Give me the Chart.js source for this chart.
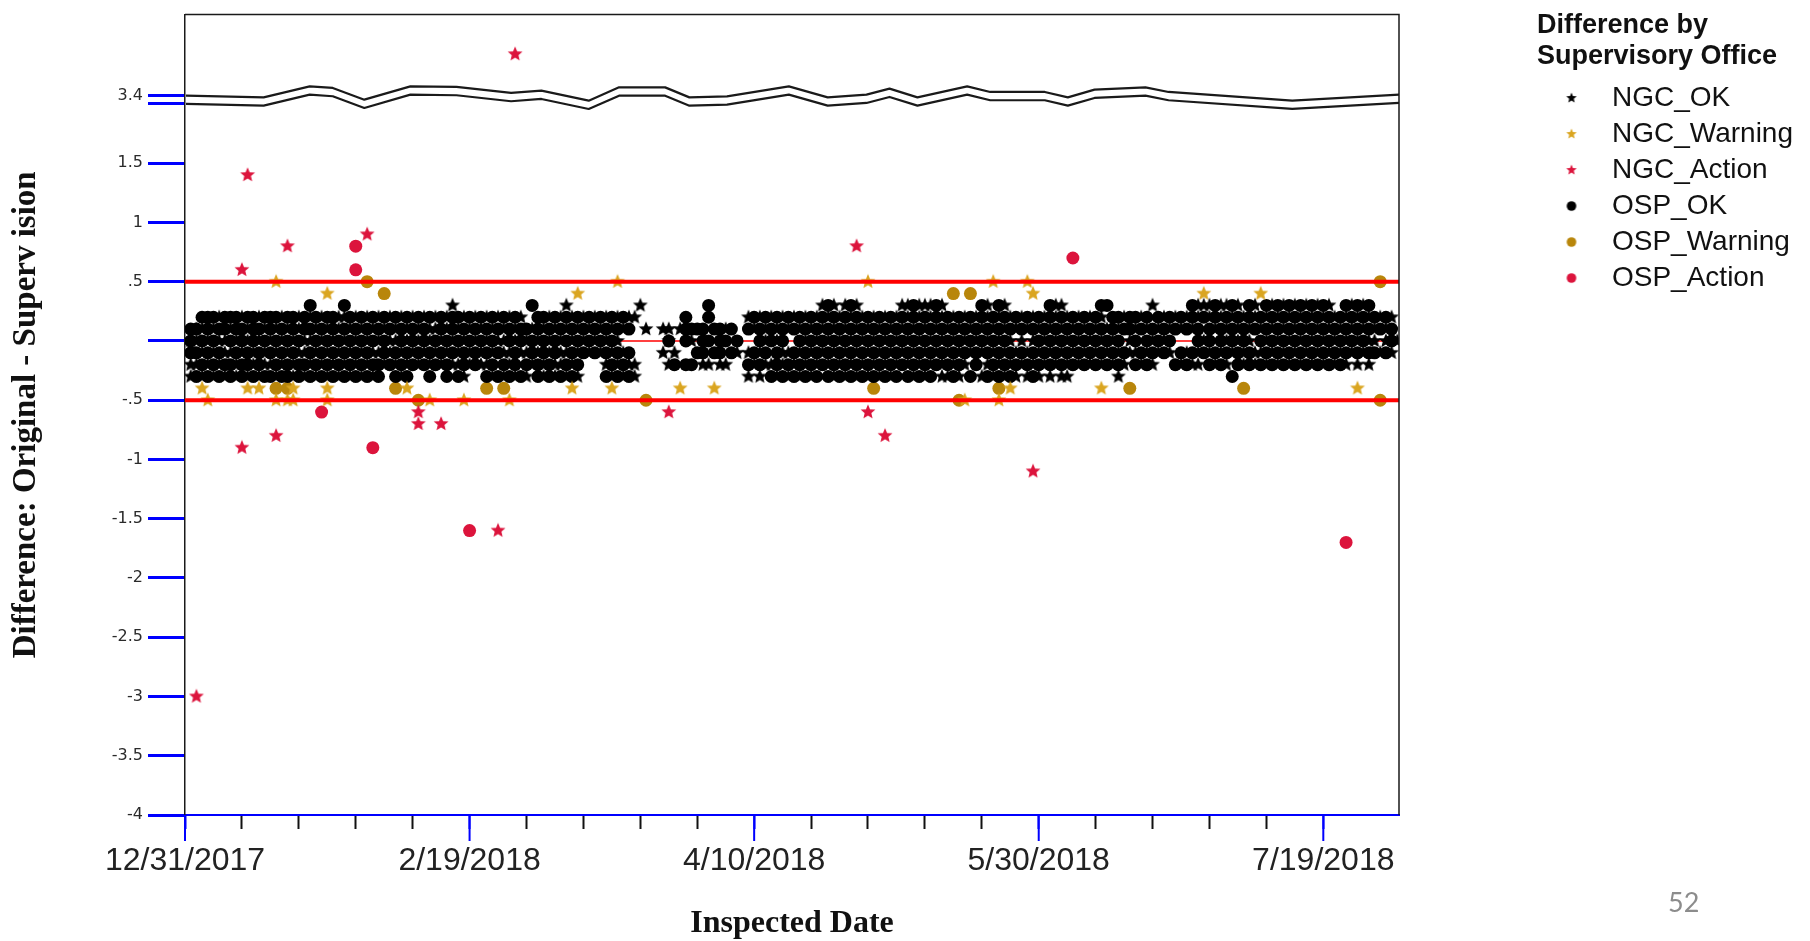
<!DOCTYPE html>
<html>
<head>
<meta charset="utf-8">
<title>Difference by Supervisory Office</title>
<script src="https://cdn.jsdelivr.net/npm/chart.js@4.4.1/dist/chart.umd.min.js"></script>
<style>
  html, body { margin: 0; background: #fff; }
  #wrap { position: relative; width: 1810px; height: 941px; }
  #pageNo { position: absolute; left: 1668px; top: 885px; font: 27px Lato, "Open Sans", sans-serif; color: #8c8c8c; }
</style>
</head>
<body>
<div id="wrap">
  <canvas id="myChart" width="1810" height="941"></canvas>
  <div id="pageNo">52</div>
</div>
<script>
// day 0 = 12/31/2017, values are Original - Supervision
var xLabelDays = [0, 50, 100, 150, 200];
var xLabels = ['12/31/2017', '2/19/2018', '4/10/2018', '5/30/2018', '7/19/2018'];

var yTickValues = [-4, -3.5, -3, -2.5, -2, -1.5, -1, -.5, 0, .5, 1, 1.5, 2, 3.4];
var yTickLabels = ['-4', '-3.5', '-3', '-2.5', '-2', '-1.5', '-1', '-.5', '', '.5', '1', '1.5', '', '3.4'];

var limits = [-.5, .5];
var centerLine = 0;

// axis break: nothing shown between 2 and 3.4
var BREAK_LOW = 2, BREAK_HIGH = 3.4;

var seriesNames = ['NGC_OK', 'NGC_Warning', 'NGC_Action', 'OSP_OK', 'OSP_Warning', 'OSP_Action'];

// rows are [day, value, value, ...]
var ngcOk = [
  [1, -.3, -.2, 0], [2, -.2, 0, .1], [3, -.3, -.1, .1], [4, -.2, 0], [5, -.3, -.1, .1],
  [6, -.2, 0, .2], [7, -.3, -.1, 0], [8, -.1, .1], [9, -.3, -.2, 0], [10, -.1, .2],
  [11, -.3, 0, .1], [12, -.2, -.1], [13, -.3, 0, .2], [14, -.2, -.1, .1], [15, -.2, 0],
  [16, -.3, -.1, .1], [17, -.2, 0, .2], [18, -.1, .1], [19, -.3, -.2, 0], [20, -.1, .1, .2],
  [21, -.3, -.1, 0], [22, -.2, 0, .2], [23, -.3, -.1, .1], [24, -.2, 0, .2], [25, -.3, -.1, .1],
  [26, -.2, 0], [27, -.3, -.1, .1, .2], [28, -.2, 0, .2], [29, -.3, -.1, .1], [30, -.2, 0, .2],
  [31, -.3, -.1, .1], [32, -.2, 0, .2], [33, -.3, -.1, .1], [34, -.1, 0, .2], [35, -.2, .1],
  [36, -.1, 0, .2], [37, -.2, 0, .1], [38, -.3, -.1, .2], [39, -.2, 0, .1], [40, -.1, .2],
  [41, -.2, 0, .1], [42, -.1, .2], [43, -.2, 0, .1], [44, -.1, .1, .2], [45, -.2, 0],
  [46, -.1, .1, .2], [47, -.2, 0, .3], [48, -.2, -.1, .1], [49, -.3, 0, .2], [50, -.2, -.1, .1],
  [51, 0, .2], [52, -.2, -.1, .1], [53, -.2, 0, .2], [54, -.3, -.1, .1], [55, 0, .2],
  [56, -.3, -.1, 0, .1], [57, -.2, -.1, .2], [58, -.3, 0, .1], [59, -.1, .2], [60, -.3, -.1, 0],
  [61, -.2, .1], [62, -.1, 0], [63, -.3, -.2, .1], [64, -.1, 0, .2], [65, -.3, -.2, .1],
  [66, -.2, -.1, 0, .2], [67, -.3, -.1, .1, .3], [68, -.2, 0, .2], [69, -.3, -.1, .1], [70, 0, .2],
  [71, -.1, .1], [72, 0, .2], [73, -.1, .1], [74, -.2, 0, .2], [75, -.3, -.1, .1],
  [76, -.2, 0, .2], [77, -.3, -.1, .1], [78, -.2, .2], [79, -.3, -.2, .2], [80, .3], [81, .1],
  [84, -.1, .1], [85, -.2, 0, .1], [86, -.1], [87, .1], [89, 0], [91, -.2], [92, -.2],
  [94, -.2], [95, -.2, .1], [97, -.1],
  [99, -.3, -.1, .2], [100, -.2, .1], [101, -.3, -.1, .2], [102, -.2, 0, .1], [103, -.2, .2],
  [104, -.3, 0, .1], [105, -.2, -.1, .2], [106, -.3, -.1, .1], [107, -.2, .2], [108, -.3, -.1, .1],
  [109, -.2, 0, .2], [110, -.3, -.1, .1], [111, -.2, 0, .2], [112, -.1, .1, .3], [113, -.2, 0, .2],
  [114, -.3, -.1, .1, .3], [115, -.2, 0, .2], [116, -.3, -.1, .1, .3], [117, -.2, 0, .2], [118, -.3, -.1, .1, .3],
  [119, -.2, 0, .2], [120, -.3, -.1, .1], [121, -.2, 0, .2], [122, -.3, -.1, .1], [123, -.2, 0, .2],
  [124, -.3, -.1, .1], [125, -.2, 0, .2], [126, -.1, .1, .3], [127, -.2, 0, .2, .3], [128, -.3, -.1, .1],
  [129, -.2, 0, .2, .3], [130, -.3, -.1, .1, .3], [131, -.2, 0, .2, .3], [132, -.1, .1], [133, -.3, -.2, 0, .2, .3],
  [134, -.3, -.1, .1], [135, -.2, 0, .2], [136, -.3, -.1, .1], [137, -.2, 0, .2], [138, -.1, .1],
  [139, 0, .2], [140, -.3, -.1, .1], [141, -.2, 0, .2, .3], [142, -.3, -.1, .1], [143, -.2, 0, .2],
  [144, -.3, -.1, .1, .3], [145, -.2, 0, .2], [146, -.3, -.1, .1], [147, -.2, 0, .2], [148, -.3, -.1, .1],
  [149, -.2, 0, .2], [150, -.3, -.1, .1], [151, -.2, 0, .2], [152, -.3, -.1, .1], [153, -.2, 0, .2, .3],
  [154, -.3, -.1, .1, .3], [155, -.3, -.2, 0, .2], [156, -.1, .1], [157, -.2, 0, .2], [158, -.1, .1],
  [159, -.2, 0, .2], [160, -.1, .1], [161, -.2, 0, .2], [162, -.1, .1], [163, -.2, 0],
  [164, -.3, -.1, .1], [165, -.2, .2], [166, -.1, 0], [167, -.1, .1], [168, -.2, .2],
  [169, -.1, .1], [170, -.2, 0, .3], [171, -.1, .1], [172, 0, .2], [173, -.1, .1],
  [174, .2], [175, -.2, .1], [176, -.1, .2], [177, -.2, .1], [178, -.2, -.1, .2, .3],
  [179, 0, .3], [180, -.1, .2, .3], [181, -.2, .1], [182, -.1, .2, .3], [183, -.2, 0, .1, .3],
  [184, -.1, .2], [185, 0, .1, .3], [186, -.2, -.1, .2], [187, 0, .1], [188, -.2, -.1, .2, .3],
  [189, -.1, .1], [190, -.2, 0, .2], [191, -.1, .1, .3], [192, -.2, 0, .2], [193, -.1, .1, .3],
  [194, -.2, 0, .2], [195, -.1, .1, .3], [196, -.2, 0, .2], [197, -.1, .1, .3], [198, -.2, 0, .2],
  [199, -.1, .1, .3], [200, -.2, 0, .2], [201, -.1, .1, .3], [202, -.2, 0, .2], [203, -.1, .1],
  [204, -.2, 0, .2], [205, -.1, .1, .3], [206, -.2, 0, .2], [207, -.1, .1, .3], [208, -.2, 0, .2],
  [209, 0, .1], [210, -.1, .2], [211, 0, .1], [212, -.1, .2], [213, 0]
];

var ospOk = [
  [1, -.1, 0, .1], [2, -.3, -.1, .1], [3, -.2, 0, .2], [4, -.3, -.1, .1, .2], [5, -.2, 0, .2],
  [6, -.3, -.1, .1], [7, -.2, .1, .2], [8, -.3, -.2, 0, .2], [9, -.1, .1, .2], [10, -.3, -.2, 0, .1],
  [11, -.2, -.1, .2], [12, -.3, 0, .1, .2], [13, -.2, -.1, .1], [14, -.3, 0, .2], [15, -.3, -.1, .1, .2],
  [16, -.2, 0, .2], [17, -.3, -.1, .1], [18, -.3, -.2, 0, .2], [19, -.1, .1, .2], [20, -.3, -.2, 0],
  [21, -.2, .1, .2], [22, -.3, -.1, .1, .3], [23, -.2, 0, .2], [24, -.3, -.1, .1], [25, -.2, 0, .2],
  [26, -.3, -.1, .1, .2], [27, -.2, 0], [28, -.3, -.1, .1, .3], [29, -.2, 0, .2], [30, -.3, -.1, .1],
  [31, -.2, 0, .2], [32, -.3, -.1, .1], [33, -.2, 0, .2], [34, -.3, -.2, .1], [35, -.1, 0, .2],
  [36, -.2, .1], [37, -.3, -.1, .2], [38, -.2, 0, .1], [39, -.3, -.1, .2], [40, -.2, 0, .1],
  [41, -.1, .2], [42, -.2, 0, .1], [43, -.3, -.1, .2], [44, -.2, 0], [45, -.1, .1, .2],
  [46, -.3, -.2, 0], [47, -.1, .1, .2], [48, -.3, 0, .2], [49, -.2, -.1, .1], [50, 0, .2],
  [51, -.2, -.1, .1], [52, 0, .2], [53, -.3, -.1, .1], [54, -.2, 0, .2], [55, -.3, -.1, .1],
  [56, -.2, .2], [57, -.3, 0, .1], [58, -.2, -.1, .2], [59, -.3, 0, .1], [60, -.2, .1],
  [61, -.1, 0, .3], [62, -.3, -.2, .1, .2], [63, -.1, 0, .2], [64, -.3, -.2, .1], [65, -.1, 0, .2],
  [66, -.3, .1], [67, -.2, 0, .2], [68, -.3, -.1, .1], [69, -.2, 0, .2], [70, -.1, .1],
  [71, 0, .2], [72, -.1, .1], [73, 0, .2], [74, -.3, -.1, .1], [75, -.2, 0, .2],
  [76, -.3, -.1, .1], [77, -.2, .2], [78, -.3, -.1, .1],
  [85, 0], [86, -.2], [88, -.2, 0, .1, .2], [89, -.2, .1], [90, -.1, .1], [91, -.1, 0, .1],
  [92, 0, .2, .3], [93, -.1, .1], [94, -.1, 0, .1], [95, 0], [96, -.1, .1], [97, 0],
  [99, -.2, .1], [100, -.1, .2], [101, -.2, 0, .1], [102, -.1, .2], [103, -.3, 0, .1],
  [104, -.2, -.1, .2], [105, -.3, 0, .1], [106, -.2, .2], [107, -.3, -.1, .1], [108, -.2, 0, .2],
  [109, -.3, -.1, .1], [110, -.2, 0, .2], [111, -.3, -.1, .1], [112, -.2, 0, .2], [113, -.3, -.1, .1, .3],
  [114, -.2, 0, .2], [115, -.3, -.1, .1], [116, -.2, 0, .2], [117, -.3, -.1, .1, .3], [118, -.2, 0, .2],
  [119, -.3, -.1, .1], [120, -.2, 0, .2], [121, -.3, -.1, .1], [122, -.2, 0, .2], [123, -.3, -.1, .1],
  [124, -.2, 0, .2], [125, -.3, -.1, .1], [126, -.2, 0, .2], [127, -.3, -.1, .1], [128, -.2, 0, .2, .3],
  [129, -.3, -.1, .1], [130, -.2, 0, .2], [131, -.3, -.1, .1], [132, -.2, 0, .2, .3], [133, -.1, .1],
  [134, -.2, 0, .2], [135, -.3, -.1, .1], [136, -.2, 0, .2], [137, -.1, .1], [138, -.3, 0, .2],
  [139, -.2, -.1, .1], [140, 0, .2, .3], [141, -.3, -.1, .1], [142, -.2, 0, .2], [143, -.3, -.1, .1, .3],
  [144, -.2, 0, .2], [145, -.3, -.1, .1], [146, -.2, .2], [147, -.1, .1], [148, -.2, .2],
  [149, -.3, -.1, .1], [150, -.2, 0, .2], [151, -.1, .1], [152, -.2, 0, .2, .3], [153, -.1, .1],
  [154, -.2, 0, .2], [155, -.1, .1], [156, -.2, 0, .2], [157, -.1, .1], [158, -.2, 0, .2],
  [159, -.1, .1], [160, -.2, 0, .2], [161, -.1, .1, .3], [162, -.2, 0, .3], [163, -.1, .1, .2],
  [164, -.2, 0, .2], [165, -.1, .1], [166, .1, .2], [167, -.2, 0, .2], [168, -.1, .1],
  [169, -.2, 0, .2], [170, -.1, .1], [171, 0, .2], [172, -.1, .1], [173, 0, .2],
  [174, -.2, .1], [175, -.1, .2], [176, -.2, .1], [177, -.1, .2, .3], [178, 0, .1],
  [179, -.1, .2], [180, -.2, 0, .1], [181, -.1, .2, .3], [182, -.2, 0, .1], [183, -.1, .2],
  [184, -.3, 0, .1, .3], [185, -.2, -.1, .2], [186, 0, .1], [187, -.2, -.1, .2, .3], [188, .1],
  [189, -.2, 0, .2], [190, -.1, .1, .3], [191, -.2, 0, .2], [192, -.1, .1, .3], [193, -.2, 0, .2],
  [194, -.1, .1, .3], [195, -.2, 0, .2], [196, -.1, .1, .3], [197, -.2, 0, .2], [198, -.1, .1, .3],
  [199, -.2, 0, .2], [200, -.1, .1, .3], [201, -.2, 0, .2], [202, -.1, .1], [203, -.2, 0, .2],
  [204, -.1, .1, .3], [205, 0, .2], [206, -.1, .1, .3], [207, 0, .2], [208, -.1, .1, .3],
  [209, -.1, .2], [210, .1], [211, -.1, .2], [212, 0, .1]
];

var ngcWarning = [
  [3, -.4], [4, -.5], [11, -.4], [13, -.4], [16, .5], [16, -.5], [18, -.5], [19, -.4], [19, -.5],
  [25, .4], [25, -.4], [25, -.5], [39, -.4], [43, -.5], [49, -.5], [57, -.5], [68, -.4], [69, .4],
  [75, -.4], [76, .5], [87, -.4], [93, -.4], [120, .5], [137, -.5], [142, .5], [143, -.5], [145, -.4],
  [148, .5], [149, .4], [161, -.4], [179, .4], [189, .4], [206, -.4]
];

var ngcAction = [
  [2, -3], [10, .6], [10, -.9], [11, 1.4], [16, -.8], [18, .8], [32, .9], [41, -.6], [41, -.7],
  [45, -.7], [55, -1.6], [58, 3.75], [85, -.6], [118, .8], [120, -.6], [123, -.8], [149, -1.1]
];

var ospWarning = [
  [16, -.4], [18, -.4], [32, .5], [35, .4], [37, -.4], [41, -.5], [53, -.4], [56, -.4], [81, -.5],
  [121, -.4], [135, .4], [136, -.5], [138, .4], [143, -.4], [166, -.4], [186, -.4], [210, .5], [210, -.5]
];

var ospAction = [
  [24, -.6], [30, .8], [30, .6], [33, -.9], [50, -1.6], [156, .7], [204, -1.7]
];

// values above the break are pulled down so they sit just over it
function shown(v) {
  return v >= BREAK_HIGH ? v - BREAK_HIGH + BREAK_LOW + .07 : v;
}

function toPoints(rows) {
  var pts = [];
  rows.forEach(function (r) {
    for (var i = 1; i < r.length; i++) pts.push({ x: r[0], y: shown(r[i]) });
  });
  return pts;
}

function starIcon(color, size, outer, inner) {
  var c = document.createElement('canvas');
  c.width = c.height = size;
  var g = c.getContext('2d');
  g.fillStyle = color;
  g.beginPath();
  for (var i = 0; i < 10; i++) {
    var r = i % 2 ? inner : outer;
    var a = -Math.PI / 2 + i * Math.PI / 5;
    g.lineTo(size / 2 + r * Math.cos(a), size / 2 + r * Math.sin(a));
  }
  g.closePath();
  g.fill();
  return c;
}

function dotIcon(color, size, r) {
  var c = document.createElement('canvas');
  c.width = c.height = size;
  var g = c.getContext('2d');
  g.fillStyle = color;
  g.beginPath();
  g.arc(size / 2, size / 2, r, 0, Math.PI * 2);
  g.fill();
  return c;
}

var colors = ['#000000', '#DAA520', '#DC143C', '#000000', '#B8860B', '#DC143C'];
var legendIcons = [
  starIcon(colors[0], 12, 5.5, 2.4), starIcon(colors[1], 12, 5.5, 2.4), starIcon(colors[2], 12, 5.5, 2.4),
  dotIcon(colors[3], 12, 4.8), dotIcon(colors[4], 12, 4.8), dotIcon(colors[5], 12, 4.8)
];

function starSet(i, rows) {
  return {
    label: seriesNames[i], data: toPoints(rows),
    pointStyle: starIcon(colors[i], 18, 7.8, 3.5), pointRadius: 6,
    backgroundColor: colors[i], borderColor: colors[i]
  };
}

function dotSet(i, rows) {
  return {
    label: seriesNames[i], data: toPoints(rows),
    pointStyle: 'circle', pointRadius: 6.5, pointBorderWidth: 0,
    backgroundColor: colors[i], borderColor: colors[i]
  };
}

// wavy break lines: [fraction of plot width, pixel offset]
var waveShape = [
  [0, 0], [.064, 1.7], [.102, -9.3], [.121, -7.7], [.147, 4], [.185, -9.3], [.223, -8.7],
  [.268, -2.7], [.293, -5], [.332, 5], [.357, -8.3], [.395, -8.3], [.415, 1.7], [.446, .7],
  [.497, -9.3], [.529, 1.7], [.561, -1], [.580, -7], [.603, 1.7], [.644, -9.3], [.663, -3.7],
  [.708, -3.7], [.727, 1.7], [.749, -6], [.791, -8.3], [.810, -3.7], [.912, 5], [1, -1]
];

var breakPlugin = {
  id: 'axisBreak',
  afterDatasetsDraw: function (chart) {
    var ctx = chart.ctx, a = chart.chartArea, y = chart.scales.y;
    var top = y.getPixelForValue(shown(BREAK_HIGH));
    var low = y.getPixelForValue(BREAK_LOW);
    var xs = waveShape.map(function (w) { return a.left + 1 + w[0] * (a.right - a.left - 1); });
    ctx.save();
    ctx.beginPath();
    waveShape.forEach(function (w, i) { ctx.lineTo(xs[i], top + w[1]); });
    for (var i = waveShape.length - 1; i >= 0; i--) ctx.lineTo(xs[i], low + waveShape[i][1]);
    ctx.closePath();
    ctx.fillStyle = '#fff';
    ctx.fill();
    ctx.strokeStyle = '#1a1a1a';
    ctx.lineWidth = 2.2;
    ctx.lineJoin = 'round';
    [top, low].forEach(function (base) {
      ctx.beginPath();
      waveShape.forEach(function (w, i) { ctx.lineTo(xs[i], base + w[1]); });
      ctx.stroke();
    });
    ctx.restore();
  }
};

var limitPlugin = {
  id: 'limitLines',
  beforeDatasetsDraw: function (chart) {
    var ctx = chart.ctx, a = chart.chartArea;
    var py = chart.scales.y.getPixelForValue(centerLine);
    ctx.save();
    ctx.strokeStyle = '#ff0000';
    ctx.lineWidth = 1.5;
    ctx.beginPath(); ctx.moveTo(a.left, py); ctx.lineTo(a.right, py); ctx.stroke();
    ctx.restore();
  },
  afterDatasetsDraw: function (chart) {
    var ctx = chart.ctx, a = chart.chartArea;
    ctx.save();
    ctx.strokeStyle = '#ff0000';
    ctx.lineWidth = 4;
    limits.forEach(function (v) {
      var py = chart.scales.y.getPixelForValue(v);
      ctx.beginPath(); ctx.moveTo(a.left, py); ctx.lineTo(a.right, py); ctx.stroke();
    });
    ctx.restore();
  }
};

var framePlugin = {
  id: 'frame',
  afterDraw: function (chart) {
    var ctx = chart.ctx, a = chart.chartArea, x = chart.scales.x;
    ctx.save();
    ctx.strokeStyle = '#1a1a1a';
    ctx.lineWidth = 1.5;
    ctx.beginPath();
    ctx.moveTo(a.left, a.top); ctx.lineTo(a.right, a.top); ctx.lineTo(a.right, a.bottom);
    ctx.stroke();
    // long blue ticks under the dated positions
    ctx.strokeStyle = '#0000ff';
    ctx.lineWidth = 2;
    xLabelDays.forEach(function (d) {
      var px = x.getPixelForValue(d);
      ctx.beginPath(); ctx.moveTo(px, a.bottom); ctx.lineTo(px, a.bottom + 26); ctx.stroke();
    });
    ctx.restore();
  }
};

var PLOT_RIGHT = 1399, PAD_RIGHT = 7;

Chart.defaults.font.family = '"Liberation Sans", Arial, sans-serif';
Chart.defaults.color = '#222';

var ctx = document.getElementById('myChart');
var myChart = new Chart(ctx, {
  type: 'scatter',
  data: {
    datasets: [
      starSet(0, ngcOk), starSet(1, ngcWarning), starSet(2, ngcAction),
      dotSet(3, ospOk), dotSet(4, ospWarning), dotSet(5, ospAction)
    ]
  },
  options: {
    responsive: false,
    devicePixelRatio: 1,
    animation: false,
    events: [],
    layout: { padding: { left: 0, top: 12, right: PAD_RIGHT, bottom: 0 } },
    plugins: {
      tooltip: { enabled: false },
      legend: {
        position: 'right',
        align: 'start',
        title: {
          display: true,
          text: ['Difference by', 'Supervisory Office'],
          position: 'start',
          color: '#111',
          font: { size: 27, weight: 'bold', lineHeight: 1.15 },
          padding: { top: 0, bottom: 33 }
        },
        labels: {
          usePointStyle: true,
          pointStyleWidth: 53,
          padding: 8,
          color: '#1a1a1a',
          font: { size: 28 },
          generateLabels: function (chart) {
            return chart.data.datasets.map(function (ds, i) {
              return { text: ds.label, pointStyle: legendIcons[i], fillStyle: colors[i], strokeStyle: colors[i], lineWidth: 0, hidden: false, datasetIndex: i };
            });
          }
        }
      }
    },
    scales: {
      x: {
        type: 'linear',
        min: 0,
        max: 213.3,
        afterBuildTicks: function (axis) {
          axis.ticks = axis.ticks.filter(function (t) { return t.value % 10 === 0; });
        },
        afterFit: function (axis) { axis.height = 126; },
        ticks: {
          stepSize: 10,
          autoSkip: false,
          maxRotation: 0,
          padding: 13,
          color: '#222',
          font: { size: 32 },
          callback: function (value) {
            var i = xLabelDays.indexOf(value);
            return i < 0 ? '' : xLabels[i];
          }
        },
        grid: {
          drawOnChartArea: false,
          tickLength: 14,
          tickWidth: 2,
          tickColor: function (c) { return xLabelDays.indexOf(c.tick.value) >= 0 ? '#0000ff' : '#111'; }
        },
        border: { color: '#0000ff', width: 2 },
        title: {
          display: true,
          text: 'Inspected Date',
          color: '#111',
          font: { family: '"Liberation Serif", "Times New Roman", serif', size: 32, weight: 'bold', lineHeight: 1.1 },
          padding: { top: 0, bottom: 0 }
        }
      },
      y: {
        type: 'linear',
        min: -4,
        max: 2.754,
        afterBuildTicks: function (axis) {
          axis.ticks = yTickValues.map(function (v) { return { value: shown(v) }; });
        },
        afterFit: function (axis) { axis.width = 185; },
        ticks: {
          autoSkip: false,
          padding: 5,
          color: '#2a2a2a',
          font: { family: '"DejaVu Sans", sans-serif', size: 16 },
          callback: function (value) {
            for (var i = 0; i < yTickValues.length; i++) {
              if (Math.abs(shown(yTickValues[i]) - value) < 1e-6) return yTickLabels[i];
            }
            return '';
          }
        },
        grid: { drawOnChartArea: false, tickLength: 37, tickWidth: 3, tickColor: '#0000ff' },
        border: { color: '#1a1a1a', width: 1.5 },
        title: {
          display: true,
          text: 'Difference: Original - Superv ision',
          color: '#111',
          font: { family: '"Liberation Serif", "Times New Roman", serif', size: 33, weight: 'bold', lineHeight: 1.1 },
          padding: { top: 8, bottom: 0 }
        }
      },
      // empty strip between the plot and the legend
      gap: {
        type: 'linear',
        position: 'right',
        ticks: { display: false },
        grid: { display: false },
        border: { display: false },
        afterFit: function (axis) {
          axis.width = Math.max(0, axis.chart.width - PAD_RIGHT - axis.chart.legend.width - PLOT_RIGHT);
        }
      }
    }
  },
  plugins: [limitPlugin, breakPlugin, framePlugin]
});
</script>
</body>
</html>
